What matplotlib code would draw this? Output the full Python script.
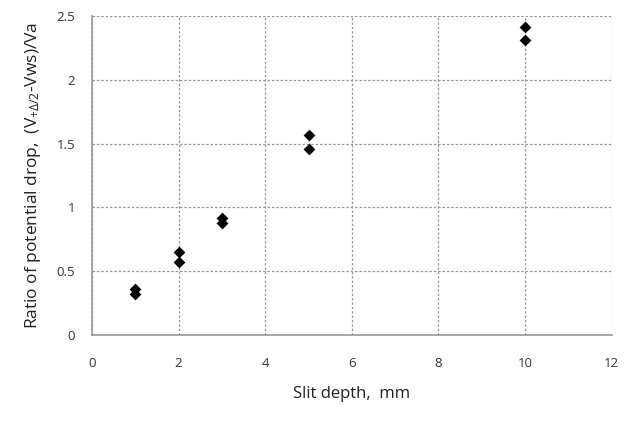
import matplotlib
matplotlib.use("Agg")
import matplotlib.pyplot as plt

x_depth = [1, 1, 2, 2, 3, 3, 5, 5, 10, 10]
y_ratio = [0.36, 0.32, 0.65, 0.57, 0.92, 0.88, 1.57, 1.46, 2.41, 2.31]
x_ticks = [0, 2, 4, 6, 8, 10, 12]
y_ticks = [0, 0.5, 1, 1.5, 2, 2.5]
y_ticklabels = ["0", "0.5", "1", "1.5", "2", "2.5"]

plt.rcParams['font.family'] = ['Open Sans', 'DejaVu Sans']
plt.rcParams['mathtext.fontset'] = 'custom'
plt.rcParams['mathtext.rm'] = 'Open Sans'
plt.rcParams['mathtext.it'] = 'Open Sans'

fig = plt.figure(figsize=(6.3, 4.21), dpi=100)
ax = fig.add_axes([0.146, 0.204, 0.825, 0.758])

ax.scatter(x_depth, y_ratio, marker='D', s=36, color='black', zorder=3, linewidths=0)

ax.set_xlim(0, 12)
ax.set_ylim(0, 2.5)
ax.set_xticks(x_ticks)
ax.set_yticks(y_ticks)
ax.set_yticklabels(y_ticklabels)

ax.grid(True, linestyle=(0, (2, 1.5)), color='#999999', linewidth=0.9)
for side in ['top', 'right']:
    ax.spines[side].set_visible(False)
for side in ['left', 'bottom']:
    ax.spines[side].set_color('#999999')
    ax.spines[side].set_linewidth(1.2)

ax.tick_params(axis='both', length=0, labelsize=9.5, labelcolor='#333333')
ax.tick_params(axis='x', pad=16)
ax.tick_params(axis='y', pad=12)

ax.set_xlabel('Slit depth,  mm', fontsize=12, color='#222222', labelpad=11)
ax.set_ylabel(r'Ratio of potential drop,  (V$_{+\Delta/2}$-Vws)/Va', fontsize=12.5, color='#222222', labelpad=10)

fig.savefig('out.png', dpi=100)
